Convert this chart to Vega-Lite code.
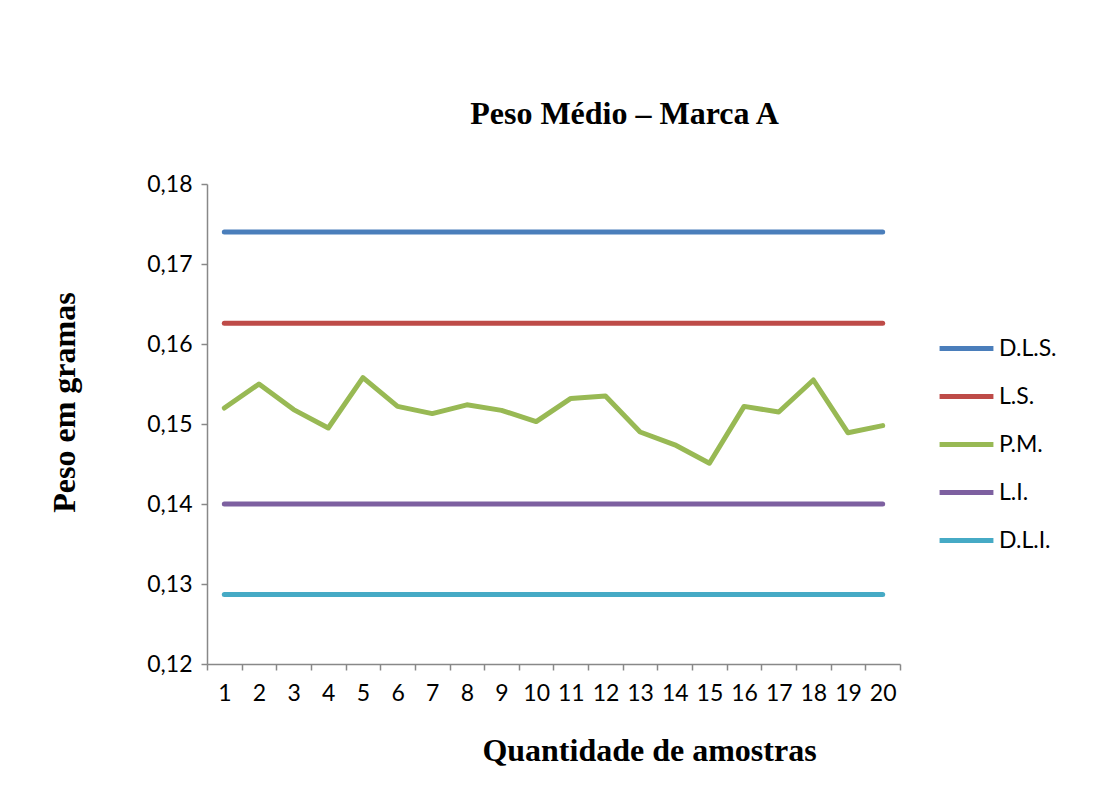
{
  "$schema": "https://vega.github.io/schema/vega-lite/v6.json",
  "width": 693,
  "height": 480,
  "autosize": {"type": "none"},
  "padding": {"left": 207, "top": 184, "right": 197, "bottom": 121},
  "background": "white",
  "title": {
    "text": "Peso Médio – Marca A",
    "font": "Liberation Serif",
    "fontSize": 32,
    "fontWeight": "bold",
    "color": "black",
    "anchor": "middle",
    "dx": 71,
    "offset": 42
  },
  "data": {
    "values": [
      {"amostra": 1, "serie": "D.L.S.", "valor": 0.174}, {"amostra": 2, "serie": "D.L.S.", "valor": 0.174}, {"amostra": 3, "serie": "D.L.S.", "valor": 0.174}, {"amostra": 4, "serie": "D.L.S.", "valor": 0.174}, {"amostra": 5, "serie": "D.L.S.", "valor": 0.174}, {"amostra": 6, "serie": "D.L.S.", "valor": 0.174}, {"amostra": 7, "serie": "D.L.S.", "valor": 0.174}, {"amostra": 8, "serie": "D.L.S.", "valor": 0.174}, {"amostra": 9, "serie": "D.L.S.", "valor": 0.174}, {"amostra": 10, "serie": "D.L.S.", "valor": 0.174}, {"amostra": 11, "serie": "D.L.S.", "valor": 0.174}, {"amostra": 12, "serie": "D.L.S.", "valor": 0.174}, {"amostra": 13, "serie": "D.L.S.", "valor": 0.174}, {"amostra": 14, "serie": "D.L.S.", "valor": 0.174}, {"amostra": 15, "serie": "D.L.S.", "valor": 0.174}, {"amostra": 16, "serie": "D.L.S.", "valor": 0.174}, {"amostra": 17, "serie": "D.L.S.", "valor": 0.174}, {"amostra": 18, "serie": "D.L.S.", "valor": 0.174}, {"amostra": 19, "serie": "D.L.S.", "valor": 0.174}, {"amostra": 20, "serie": "D.L.S.", "valor": 0.174},
      {"amostra": 1, "serie": "L.S.", "valor": 0.1626}, {"amostra": 2, "serie": "L.S.", "valor": 0.1626}, {"amostra": 3, "serie": "L.S.", "valor": 0.1626}, {"amostra": 4, "serie": "L.S.", "valor": 0.1626}, {"amostra": 5, "serie": "L.S.", "valor": 0.1626}, {"amostra": 6, "serie": "L.S.", "valor": 0.1626}, {"amostra": 7, "serie": "L.S.", "valor": 0.1626}, {"amostra": 8, "serie": "L.S.", "valor": 0.1626}, {"amostra": 9, "serie": "L.S.", "valor": 0.1626}, {"amostra": 10, "serie": "L.S.", "valor": 0.1626}, {"amostra": 11, "serie": "L.S.", "valor": 0.1626}, {"amostra": 12, "serie": "L.S.", "valor": 0.1626}, {"amostra": 13, "serie": "L.S.", "valor": 0.1626}, {"amostra": 14, "serie": "L.S.", "valor": 0.1626}, {"amostra": 15, "serie": "L.S.", "valor": 0.1626}, {"amostra": 16, "serie": "L.S.", "valor": 0.1626}, {"amostra": 17, "serie": "L.S.", "valor": 0.1626}, {"amostra": 18, "serie": "L.S.", "valor": 0.1626}, {"amostra": 19, "serie": "L.S.", "valor": 0.1626}, {"amostra": 20, "serie": "L.S.", "valor": 0.1626},
      {"amostra": 1, "serie": "P.M.", "valor": 0.152}, {"amostra": 2, "serie": "P.M.", "valor": 0.155}, {"amostra": 3, "serie": "P.M.", "valor": 0.1518}, {"amostra": 4, "serie": "P.M.", "valor": 0.1495}, {"amostra": 5, "serie": "P.M.", "valor": 0.1558}, {"amostra": 6, "serie": "P.M.", "valor": 0.1522}, {"amostra": 7, "serie": "P.M.", "valor": 0.1513}, {"amostra": 8, "serie": "P.M.", "valor": 0.1524}, {"amostra": 9, "serie": "P.M.", "valor": 0.1517}, {"amostra": 10, "serie": "P.M.", "valor": 0.1503}, {"amostra": 11, "serie": "P.M.", "valor": 0.1532}, {"amostra": 12, "serie": "P.M.", "valor": 0.1535}, {"amostra": 13, "serie": "P.M.", "valor": 0.149}, {"amostra": 14, "serie": "P.M.", "valor": 0.1474}, {"amostra": 15, "serie": "P.M.", "valor": 0.1451}, {"amostra": 16, "serie": "P.M.", "valor": 0.1522}, {"amostra": 17, "serie": "P.M.", "valor": 0.1515}, {"amostra": 18, "serie": "P.M.", "valor": 0.1555}, {"amostra": 19, "serie": "P.M.", "valor": 0.1489}, {"amostra": 20, "serie": "P.M.", "valor": 0.1498},
      {"amostra": 1, "serie": "L.I.", "valor": 0.14}, {"amostra": 2, "serie": "L.I.", "valor": 0.14}, {"amostra": 3, "serie": "L.I.", "valor": 0.14}, {"amostra": 4, "serie": "L.I.", "valor": 0.14}, {"amostra": 5, "serie": "L.I.", "valor": 0.14}, {"amostra": 6, "serie": "L.I.", "valor": 0.14}, {"amostra": 7, "serie": "L.I.", "valor": 0.14}, {"amostra": 8, "serie": "L.I.", "valor": 0.14}, {"amostra": 9, "serie": "L.I.", "valor": 0.14}, {"amostra": 10, "serie": "L.I.", "valor": 0.14}, {"amostra": 11, "serie": "L.I.", "valor": 0.14}, {"amostra": 12, "serie": "L.I.", "valor": 0.14}, {"amostra": 13, "serie": "L.I.", "valor": 0.14}, {"amostra": 14, "serie": "L.I.", "valor": 0.14}, {"amostra": 15, "serie": "L.I.", "valor": 0.14}, {"amostra": 16, "serie": "L.I.", "valor": 0.14}, {"amostra": 17, "serie": "L.I.", "valor": 0.14}, {"amostra": 18, "serie": "L.I.", "valor": 0.14}, {"amostra": 19, "serie": "L.I.", "valor": 0.14}, {"amostra": 20, "serie": "L.I.", "valor": 0.14},
      {"amostra": 1, "serie": "D.L.I.", "valor": 0.1287}, {"amostra": 2, "serie": "D.L.I.", "valor": 0.1287}, {"amostra": 3, "serie": "D.L.I.", "valor": 0.1287}, {"amostra": 4, "serie": "D.L.I.", "valor": 0.1287}, {"amostra": 5, "serie": "D.L.I.", "valor": 0.1287}, {"amostra": 6, "serie": "D.L.I.", "valor": 0.1287}, {"amostra": 7, "serie": "D.L.I.", "valor": 0.1287}, {"amostra": 8, "serie": "D.L.I.", "valor": 0.1287}, {"amostra": 9, "serie": "D.L.I.", "valor": 0.1287}, {"amostra": 10, "serie": "D.L.I.", "valor": 0.1287}, {"amostra": 11, "serie": "D.L.I.", "valor": 0.1287}, {"amostra": 12, "serie": "D.L.I.", "valor": 0.1287}, {"amostra": 13, "serie": "D.L.I.", "valor": 0.1287}, {"amostra": 14, "serie": "D.L.I.", "valor": 0.1287}, {"amostra": 15, "serie": "D.L.I.", "valor": 0.1287}, {"amostra": 16, "serie": "D.L.I.", "valor": 0.1287}, {"amostra": 17, "serie": "D.L.I.", "valor": 0.1287}, {"amostra": 18, "serie": "D.L.I.", "valor": 0.1287}, {"amostra": 19, "serie": "D.L.I.", "valor": 0.1287}, {"amostra": 20, "serie": "D.L.I.", "valor": 0.1287}
    ]
  },
  "mark": {"type": "line", "strokeWidth": 5, "strokeCap": "round", "strokeJoin": "round"},
  "encoding": {
    "x": {
      "field": "amostra",
      "type": "ordinal",
      "scale": {"paddingInner": 0, "paddingOuter": 0},
      "axis": {
        "title": "Quantidade de amostras",
        "titleFont": "Liberation Serif",
        "titleFontSize": 32,
        "titleFontWeight": "bold",
        "titleColor": "black",
        "titleX": 442,
        "titlePadding": 30,
        "labelAngle": 0,
        "labelFont": "Lato",
        "labelFontSize": 23,
        "labelColor": "black",
        "labelPadding": 12,
        "tickBand": "extent",
        "tickSize": 6,
        "tickColor": "#888888",
        "domainColor": "#888888",
        "domainWidth": 1.5,
        "tickWidth": 1.5,
        "grid": false
      }
    },
    "y": {
      "field": "valor",
      "type": "quantitative",
      "scale": {"domain": [0.12, 0.18], "nice": false, "zero": false},
      "axis": {
        "title": "Peso em gramas",
        "titleFont": "Liberation Serif",
        "titleFontSize": 32,
        "titleFontWeight": "bold",
        "titleColor": "black",
        "titleY": 218,
        "titlePadding": 65,
        "values": [0.12, 0.13, 0.14, 0.15, 0.16, 0.17, 0.18],
        "format": ".2f",
        "labelExpr": "replace(datum.label, '.', ',')",
        "labelFont": "Lato",
        "labelFontSize": 23,
        "labelColor": "black",
        "labelPadding": 9,
        "tickSize": 6,
        "tickColor": "#888888",
        "domainColor": "#888888",
        "domainWidth": 1.5,
        "tickWidth": 1.5,
        "grid": false
      }
    },
    "color": {
      "field": "serie",
      "type": "nominal",
      "sort": ["D.L.S.", "L.S.", "P.M.", "L.I.", "D.L.I."],
      "scale": {
        "domain": ["D.L.S.", "L.S.", "P.M.", "L.I.", "D.L.I."],
        "range": ["#4A7EBB", "#BE4B48", "#98B954", "#7D60A0", "#46AAC5"]
      },
      "legend": {
        "title": null,
        "orient": "none",
        "legendX": 730,
        "legendY": 135,
        "symbolType": "stroke",
        "symbolSize": 2900,
        "symbolStrokeWidth": 5,
        "labelFont": "Lato",
        "labelFontSize": 23,
        "labelColor": "black",
        "labelOffset": 3,
        "rowPadding": 6
      }
    }
  },
  "config": {"view": {"stroke": null}}
}
